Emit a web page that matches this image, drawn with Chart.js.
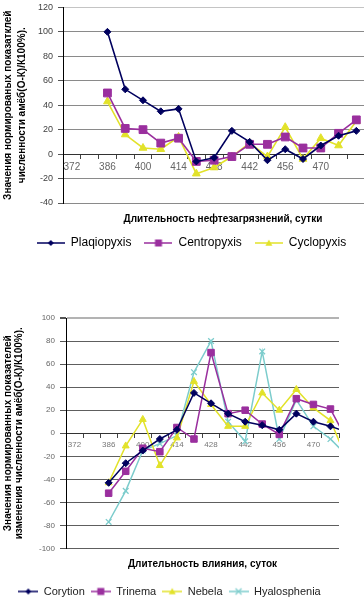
<!DOCTYPE html>
<html><head><meta charset="utf-8">
<script src="https://cdn.jsdelivr.net/npm/chart.js@4/dist/chart.umd.min.js"></script>
<style>
html,body{margin:0;padding:0;background:#fff;width:364px;height:597px;overflow:hidden;position:relative}
#c1{position:absolute;left:0;top:-3px}
#c2{position:absolute;left:0;top:300px}
</style></head><body>
<canvas id="c1" width="390" height="262"></canvas>
<canvas id="c2" width="378" height="307"></canvas>
<script>
// ---- data ----
const days = [372,379,386,393,400,407,414,421,428,435,442,449,456,463,470,477,484];
const dayLabels = [372,386,400,414,428,442,456,470];

// chart 1
const names1 = ['Plaqiopyxis','Centropyxis','Cyclopyxis'];
const plagiopyxis = [null,null,100,53,44,35,37,-6,-3,19,10,-5,4,-4,7,15,19];
const centropyxis = [null,null,50,21,20,9,13,-6,-5,-2,8,8,14,5,5,17,28];
const cyclopyxis  = [null,null,43,16,5,4,14,-16,-11,-2,9,-2,22,-4,13,7,27];
const yTitle1 = ['Значения нормированых показатклей','численности амёб(О-К)/К100%).'];
const xTitle1 = 'Длительность нефтезагрязнений, сутки';

// chart 2
const names2 = ['Corytion','Trinema','Nebela','Hyalosphenia'];
const corytion     = [null,null,-43,-26,-15,-5,3,35,26,17,10,7,3,17,10,6,1];
const trinema      = [null,null,-52,-33,-13,-16,5,-5,70,17,20,8,-1,30,25,21,-7];
const nebela       = [null,null,-43,-11,12,-28,-4,45,25,6,6,35,20,38,22,11,-24];
const hyalosphenia = [null,null,-77,-50,-15,-9,-2,53,80,10,-7,71,-5,29,6,-5,-20];
const yTitle2 = ['Значения нормированных показателей','изменения численности амёб(О-К)/К100%).'];
const xTitle2 = 'Длительность влияния, суток';

// ---- styles ----
const NAVY='#00005e', PURPLE='#9a2f9e', YELLOW='#e2e22a', TEAL='#7ccccc';
const FONT='"Liberation Sans", Arial, sans-serif';
Chart.defaults.font.family = FONT;

function pts(arr){ return arr.map((v,i)=>({x:days[i], y:v})); }

function icon(color, style, w, r, lw){
  const c=document.createElement('canvas'); c.width=w; c.height=12;
  const g=c.getContext('2d');
  g.strokeStyle=color; g.fillStyle=color; g.lineWidth=lw;
  g.beginPath(); g.moveTo(0,6); g.lineTo(w,6); g.stroke();
  const cx=w/2, cy=6;
  g.beginPath();
  if(style==='rectRot'){ g.moveTo(cx,cy-r); g.lineTo(cx+r,cy); g.lineTo(cx,cy+r); g.lineTo(cx-r,cy); g.closePath(); g.fill(); }
  else if(style==='rect'){ g.fillRect(cx-r,cy-r,2*r,2*r); }
  else if(style==='triangle'){ g.moveTo(cx,cy-r); g.lineTo(cx+r,cy+r*0.8); g.lineTo(cx-r,cy+r*0.8); g.closePath(); g.fill(); }
  else if(style==='crossRot'){ g.lineWidth=1.2; g.moveTo(cx-r,cy-r); g.lineTo(cx+r,cy+r); g.moveTo(cx+r,cy-r); g.lineTo(cx-r,cy+r); g.stroke(); }
  return c;
}

function xScale(minV, maxV, fontSize, color){
  return {
    type:'linear', min:minV, max:maxV, position:{y:0},
    afterBuildTicks(s){ s.ticks = days.filter(d=>d>=minV && d<=maxV).map(d=>({value:d})); },
    ticks:{ autoSkip:false, maxRotation:0, padding:3, color:color, font:{size:fontSize},
      callback:(v)=> dayLabels.includes(v) ? String(v) : '' },
    grid:{ drawOnChartArea:false, drawTicks:true, tickLength:4, offset:true, tickColor:'#444' },
    border:{ display:true, color:'#333', width:1 }
  };
}

function ds(label, data, color, style, r, bw){
  return { label, data:pts(data), borderColor:color, backgroundColor:color, pointBackgroundColor:color,
    pointBorderColor:color, pointStyle:style, pointRadius:r, pointHoverRadius:r, borderWidth:bw,
    pointBorderWidth: style==='crossRot'?1.3:1, tension:0, spanGaps:false };
}

// ---- chart 1 ----
const icons1 = [icon(NAVY,'rectRot',28,3,1.5), icon(PURPLE,'rect',28,3.5,1.5), icon(YELLOW,'triangle',28,3.5,1.5)];
new Chart(document.getElementById('c1'), {
  type:'line',
  data:{ datasets:[
    ds(names1[0], plagiopyxis, NAVY, 'rectRot', 3.5, 1.6),
    ds(names1[1], centropyxis, PURPLE, 'rect', 5.5, 1.6),
    ds(names1[2], cyclopyxis, YELLOW, 'triangle', 4.5, 1.6)
  ]},
  options:{
    responsive:false, animation:false, events:[],
    layout:{ padding:{ top:6, left:0, right:7, bottom:0 } },
    scales:{
      x: xScale(368.5, 494.5, 10, '#666'),
      y: { min:-40, max:120,
        ticks:{ stepSize:20, font:{size:9}, color:'#404040', padding:5 },
        grid:{ color:(c)=> (c.tick && c.tick.value===120) ? '#c4c4c4' : '#8a8a8a', lineWidth:1, tickLength:5, tickColor:'#555' },
        border:{ color:'#000', width:1 },
        title:{ display:true, text:yTitle1, color:'#000', font:{size:10, weight:'bold', lineHeight:1.4}, padding:{top:1,bottom:0} },
        afterFit(s){ s.width = 63; }
      }
    },
    plugins:{
      tooltip:{enabled:false},
      title:{ display:true, position:'bottom', fullSize:false, weight:500, text:xTitle1, color:'#000',
        font:{size:10, weight:'bold', lineHeight:1}, padding:{top:11,bottom:0} },
      legend:{ display:true, position:'bottom',
        labels:{ usePointStyle:true, pointStyleWidth:28, padding:13, color:'#000', font:{size:12},
          generateLabels(chart){ const it = Chart.defaults.plugins.legend.labels.generateLabels(chart); it.forEach((x,i)=>{ x.pointStyle = icons1[i]; }); return it; } } }
    }
  }
});

// ---- chart 2 ----
const icons2 = [icon(NAVY,'rectRot',20,3,1.5), icon(PURPLE,'rect',20,3.5,1.5), icon(YELLOW,'triangle',20,3.5,1.5), icon(TEAL,'crossRot',20,3,1.5)];
new Chart(document.getElementById('c2'), {
  type:'line',
  data:{ datasets:[
    ds(names2[0], corytion, NAVY, 'rectRot', 3.5, 1.5),
    ds(names2[1], trinema, PURPLE, 'rect', 4.6, 1.5),
    ds(names2[2], nebela, YELLOW, 'triangle', 4, 1.5),
    ds(names2[3], hyalosphenia, TEAL, 'crossRot', 4, 1.5)
  ]},
  options:{
    responsive:false, animation:false, events:[],
    layout:{ padding:{ top:18, left:0, right:39, bottom:0 } },
    scales:{
      x: xScale(368.5, 480.5, 8, '#777'),
      y: { min:-100, max:100,
        ticks:{ stepSize:20, font:{size:8}, color:'#666', padding:5 },
        grid:{ color:(c)=> (c.tick && c.tick.value===100) ? '#b3b3b3' : '#5e5e5e', lineWidth:(c)=> (c.tick && c.tick.value===100) ? 2 : 1, tickLength:6, tickColor:'#555' },
        border:{ color:'#000', width:1 },
        title:{ display:true, text:yTitle2, color:'#000', font:{size:10, weight:'bold', lineHeight:1.1}, padding:{top:2.5,bottom:0} },
        afterFit(s){ s.width = 66; }
      }
    },
    plugins:{
      tooltip:{enabled:false},
      title:{ display:true, position:'bottom', fullSize:false, weight:500, text:xTitle2, color:'#000',
        font:{size:10, weight:'bold', lineHeight:1.2}, padding:{top:10,bottom:9.5} },
      legend:{ display:true, position:'bottom',
        labels:{ usePointStyle:true, pointStyleWidth:20, padding:6, color:'#222', font:{size:11},
          generateLabels(chart){ const it = Chart.defaults.plugins.legend.labels.generateLabels(chart); it.forEach((x,i)=>{ x.pointStyle = icons2[i]; }); return it; } } }
    }
  }
});
</script>
</body></html>
